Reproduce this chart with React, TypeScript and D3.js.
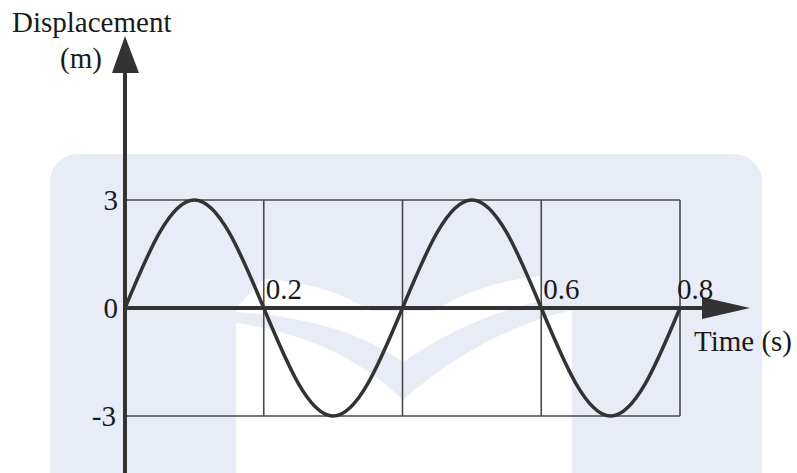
import * as d3 from 'd3';

// displacement (m) every 0.05 s
const TIMES = [0, 0.05, 0.1, 0.15, 0.2, 0.25, 0.3, 0.35, 0.4, 0.45, 0.5, 0.55, 0.6, 0.65, 0.7, 0.75, 0.8];
const DISPLACEMENT = [0, 2.1, 3, 2.1, 0, -2.1, -3, -2.1, 0, 2.1, 3, 2.1, 0, -2.1, -3, -2.1, 0];

const X_GRID = [0, 0.2, 0.4, 0.6, 0.8];
const X_LABELS = ['0.2', '0.6', '0.8'];
const X_LABEL_AT = [0.2, 0.6, 0.8];
const Y_TICKS = [3, 0, -3];
const Y_LABELS = ['3', '0', '-3'];

const W = 797;
const H = 473;
const INK = '#333';
const BG = '#e8ecf6';
const FONT = '"Liberation Serif", "DejaVu Serif", serif';

export default function App() {
  const x = d3.scaleLinear().domain([0, 0.8]).range([125, 680]);
  const y = d3.scaleLinear().domain([-3, 3]).range([416, 200]);

  const line = d3
    .line<number>()
    .x((_, i) => x(TIMES[i]))
    .y(d => y(d))
    .curve(d3.curveNatural);

  const x0 = x(0);
  const y0 = y(0);

  return (
    <svg
      width={W}
      height={H}
      style={{ position: 'absolute', left: 0, top: 0, display: 'block' }}
      fontFamily={FONT}
    >
      <rect width={W} height={H} fill="#fff" />

      {/* watermark (open book) */}
      <rect x={50} y={154} width={712} height={360} rx={28} fill={BG} />
      <rect x={236} y={311} width={336} height={170} fill="#fff" />
      <path d="M264,279 Q352,284 403,338 L403,362 Q340,318 236,312 L238,306 Z" fill="#fff" />
      <path d="M236,312 Q340,318 403,362 L403,400 Q340,338 236,323 Z" fill={BG} />
      <path d="M403,334 Q458,285 540,276 L545,300 Q470,316 403,362 Z" fill="#fff" />
      <path d="M403,362 Q470,316 545,300 L572,300 L572,310 Q480,332 403,400 Z" fill={BG} />

      {/* grid */}
      <g stroke="#4a4a4a" strokeWidth={1.6} fill="none">
        {Y_TICKS.filter(v => v !== 0).map(v => (
          <line key={v} x1={x0} x2={x(0.8)} y1={y(v)} y2={y(v)} />
        ))}
        {X_GRID.filter(v => v !== 0).map(v => (
          <line key={v} x1={x(v)} x2={x(v)} y1={y(3)} y2={y(-3)} />
        ))}
      </g>

      {/* curve */}
      <path d={line(DISPLACEMENT) ?? ''} fill="none" stroke={INK} strokeWidth={3.5} strokeLinejoin="round" />

      {/* axes */}
      <line x1={x0} x2={x0} y1={H} y2={60} stroke={INK} strokeWidth={4} />
      <path d={`M${x0},36 L${x0 + 14},73 L${x0 - 13},73 Z`} fill={INK} />
      <line x1={x0} x2={706} y1={y0} y2={y0} stroke={INK} strokeWidth={4} />
      <path d={`M750,${y0} L702,${y0 + 11} L702,${y0 - 11} Z`} fill={INK} />

      {/* labels */}
      <g fill="#1a1a1a" fontSize={29}>
        <text x={12} y={32}>Displacement</text>
        <text x={60} y={68}>(m)</text>
        {Y_TICKS.map((v, i) => (
          <text key={v} x={v < 0 ? 116 : 118} y={y(v) + 10} textAnchor="end">
            {Y_LABELS[i]}
          </text>
        ))}
        {X_LABEL_AT.map((v, i) => (
          <text key={v} x={x(v) + 2 - (v === 0.8 ? 5 : 0)} y={299}>
            {X_LABELS[i]}
          </text>
        ))}
        <text x={694} y={351}>Time (s)</text>
      </g>
    </svg>
  );
}
